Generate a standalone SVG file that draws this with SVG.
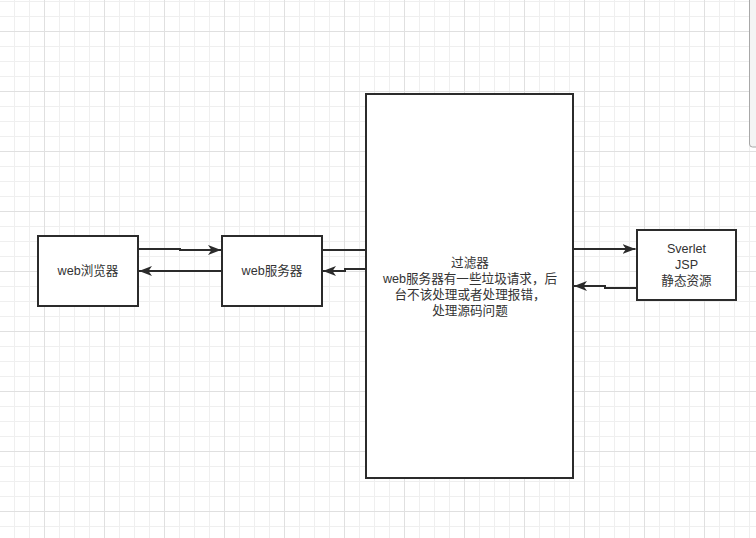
<svg xmlns="http://www.w3.org/2000/svg" width="756" height="538" viewBox="0 0 756 538">
  <style>
    .box { fill: #ffffff; stroke: #2b2b2b; stroke-width: 2; }
    .edge { fill: none; stroke: #2b2b2b; stroke-width: 2; }
    .lbl { font-family: "Liberation Sans", "Noto Sans CJK SC", sans-serif; font-size: 12.6px; fill: #333333; text-anchor: middle; }
  </style>
  <defs>
    <pattern id="grid" x="-16" y="-29" width="60" height="60" patternUnits="userSpaceOnUse">
      <rect x="15" y="0" width="1" height="60" fill="#efefef"/>
      <rect x="30" y="0" width="1" height="60" fill="#efefef"/>
      <rect x="45" y="0" width="1" height="60" fill="#efefef"/>
      <rect x="0" y="15" width="60" height="1" fill="#efefef"/>
      <rect x="0" y="30" width="60" height="1" fill="#efefef"/>
      <rect x="0" y="45" width="60" height="1" fill="#efefef"/>
      <rect x="0" y="0" width="1" height="60" fill="#e0e0e0"/>
      <rect x="0" y="0" width="60" height="1" fill="#e0e0e0"/>
    </pattern>
    <marker id="arr" markerUnits="userSpaceOnUse" markerWidth="15" markerHeight="12" refX="13" refY="5" orient="auto">
      <path d="M0,0 L13,5 L0,10 L3.5,5 Z" fill="#2b2b2b"/>
    </marker>
  </defs>
  <rect x="0" y="0" width="756" height="538" fill="#ffffff"/>
  <rect x="0" y="0" width="756" height="538" fill="url(#grid)"/>
  <rect x="749.5" y="-5" width="12" height="152" rx="3" fill="#f4f4f4" stroke="#a8a8a8" stroke-width="1"/>

  <g id="connectors">
    <path class="edge" d="M138,249 H180 V250 H221" marker-end="url(#arr)"/>
    <path class="edge" d="M222,271 H139" marker-end="url(#arr)"/>
    <path class="edge" d="M322,250 H366"/>
    <path class="edge" d="M366,269 H345 V271 H323" marker-end="url(#arr)"/>
    <path class="edge" d="M573,249 H635.5" marker-end="url(#arr)"/>
    <path class="edge" d="M637,288 H605 V286 H574" marker-end="url(#arr)"/>
  </g>

  <g id="browser">
    <rect class="box" x="38" y="236" width="100" height="70"/>
    <text class="lbl" x="88" y="275">web浏览器</text>
  </g>
  <g id="server">
    <rect class="box" x="222" y="236" width="100" height="70"/>
    <text class="lbl" x="272" y="275">web服务器</text>
  </g>
  <g id="filter">
    <rect class="box" x="366" y="94" width="207" height="384"/>
    <text class="lbl" x="470" y="267">过滤器<tspan x="470" dy="16">web服务器有一些垃圾请求，后</tspan><tspan x="470" dy="16">台不该处理或者处理报错，</tspan><tspan x="470" dy="16">处理源码问题</tspan></text>
  </g>
  <g id="resources">
    <rect class="box" x="637" y="230" width="99" height="70"/>
    <text class="lbl" x="686.5" y="253">Sverlet<tspan x="686.5" dy="16">JSP</tspan><tspan x="686.5" dy="16">静态资源</tspan></text>
  </g>
</svg>
